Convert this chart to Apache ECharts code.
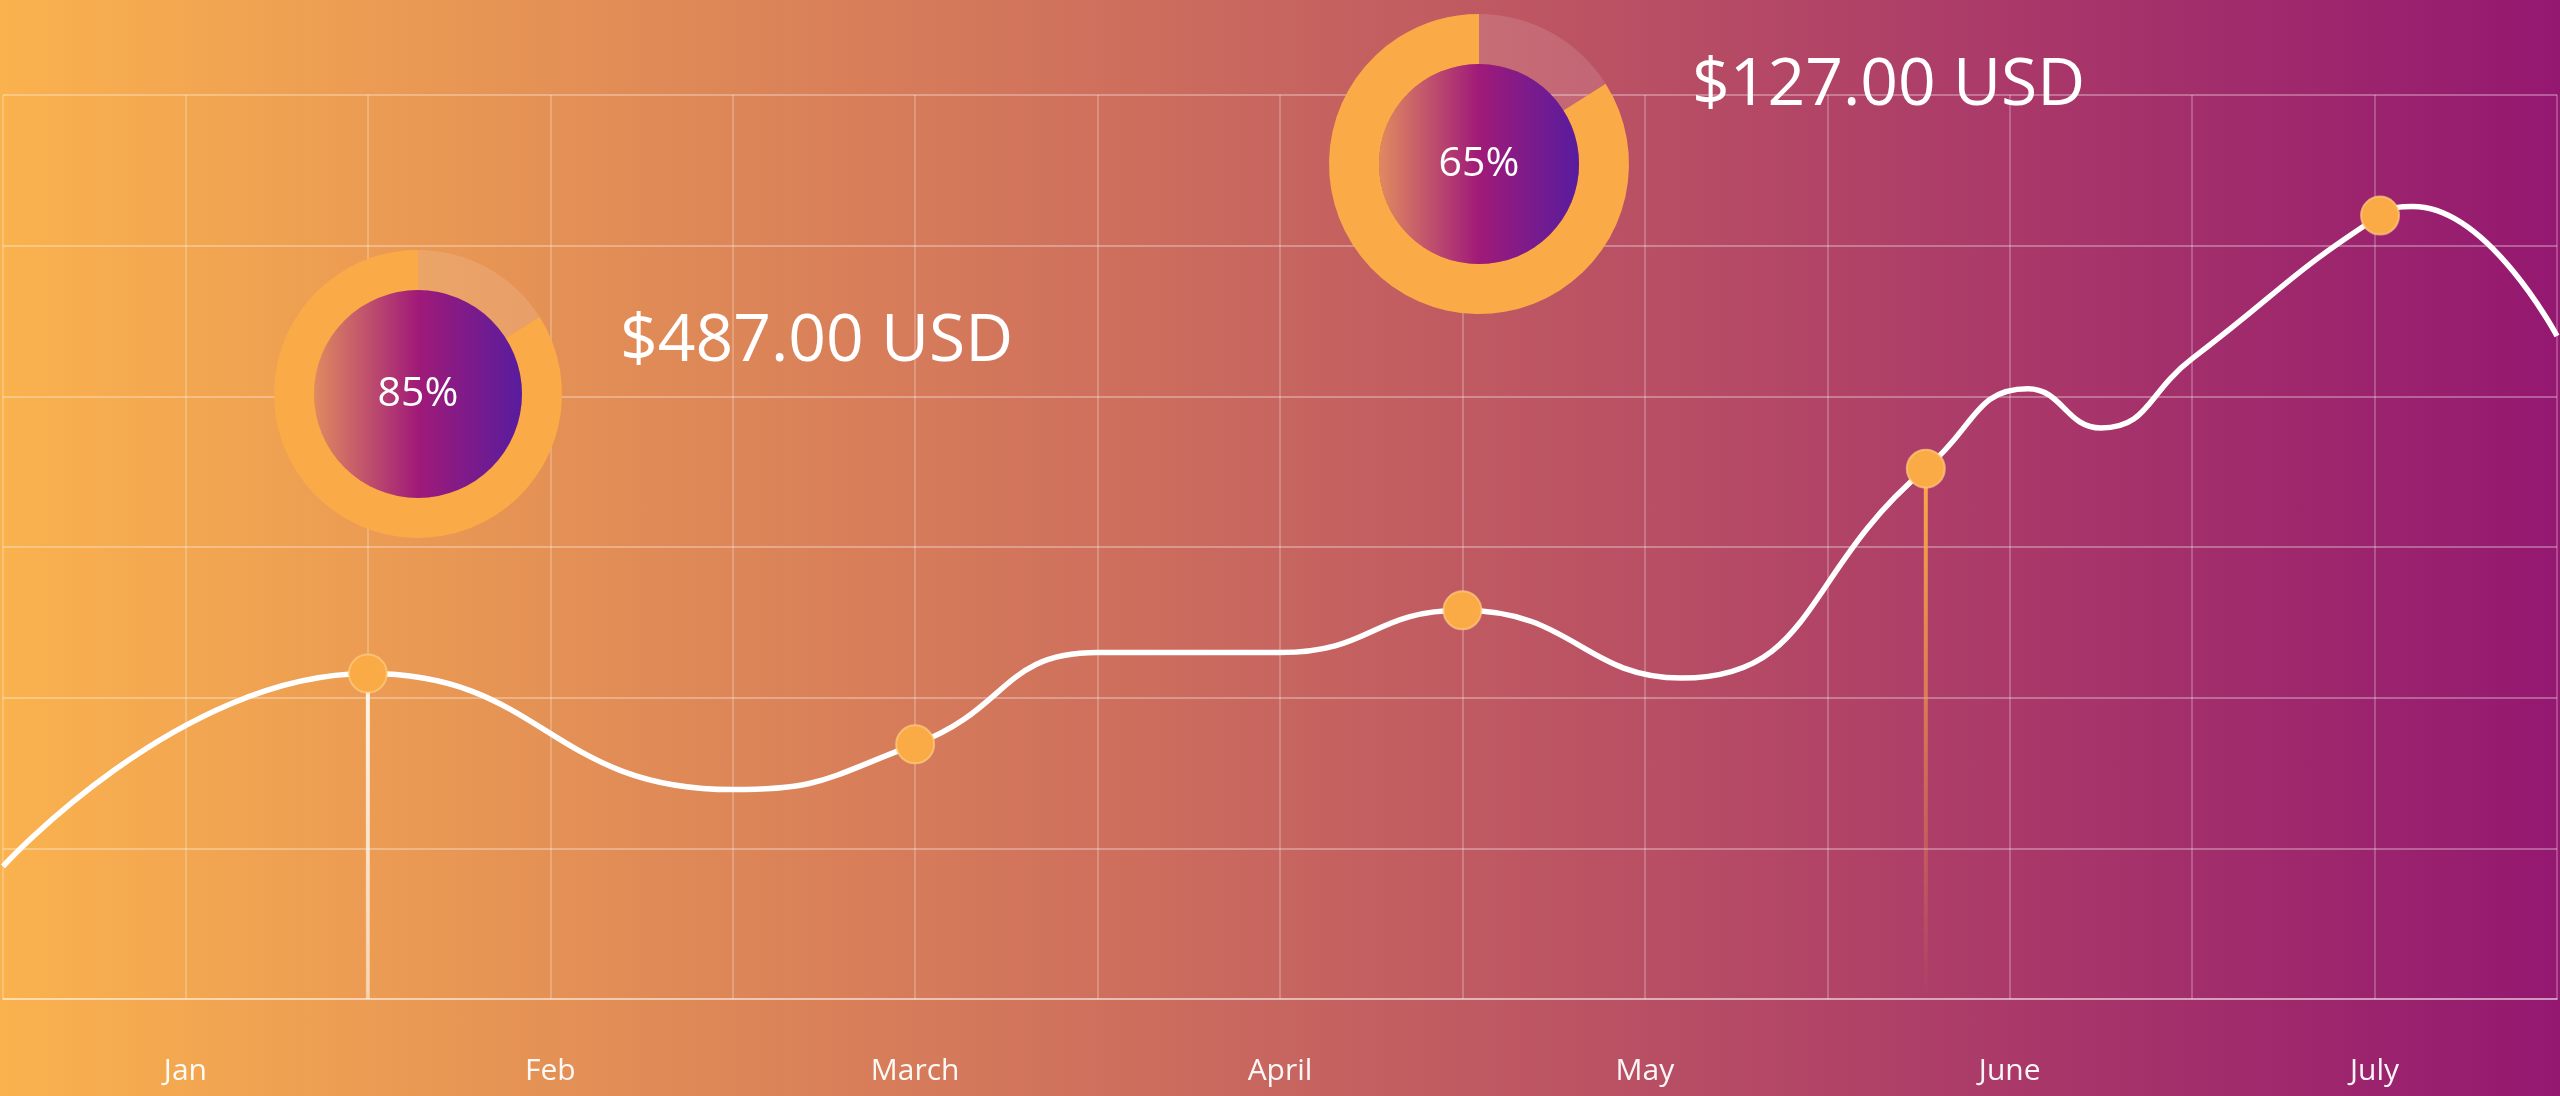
<!DOCTYPE html>
<html>
<head>
<meta charset="utf-8">
<script src="https://cdn.jsdelivr.net/npm/echarts@6/dist/echarts.min.js"></script>
<style>
  html, body { margin: 0; padding: 0; }
  #main { width: 2560px; height: 1096px; background: linear-gradient(to right, #fab24e, #941870); }
</style>
</head>
<body>
<div id="main"></div>
<script>
// x 位置按网格列计 (0..14), y 为数值
const monthLabels = ['Jan', 'Feb', 'March', 'April', 'May', 'June', 'July'];
const curveX = [0, 2, 4, 5, 6, 7, 8, 9.2, 10.54, 11.1, 11.5, 12.0, 13.03, 13.21, 14];
const curveY = [8.8, 21.6, 13.9, 16.9, 23.0, 23.0, 25.8, 21.3, 35.2, 40.5, 37.9, 42.5, 52.0, 52.6, 44.0];
const markerX = [2, 5, 8, 10.54, 13.03];
const dropX = [2, 10.54];
const dropY = [21.6, 35.2];
const donutFilled = [84, 84];
const donutText = ['85%', '65%'];
const priceText = ['$487.00 USD', '$127.00 USD'];

const chartDom = document.getElementById('main');
const myChart = echarts.init(chartDom);

const font = '"Open Sans", "Noto Sans", sans-serif';

const lineData = curveX.map(function (x, i) {
    const isMarker = markerX.indexOf(x) >= 0;
    return { value: [x, curveY[i]], symbol: isMarker ? 'circle' : 'none' };
});

// 竖线：白色和橙色，向下渐隐
const dropColors = [
    ['rgba(255,246,236,1)', 'rgba(255,240,225,0.55)'],
    ['rgba(251,170,70,1)', 'rgba(251,170,70,0)']
];
const dropData = dropX.map(function (x, i) {
    return {
        value: [x, dropY[i]],
        itemStyle: {
            color: new echarts.graphic.LinearGradient(0, 0, 0, 1, [
                { offset: 0, color: dropColors[i][0] },
                { offset: 1, color: dropColors[i][1] }
            ])
        }
    };
});

const discColor = new echarts.graphic.LinearGradient(0, 0, 1, 0, [
    { offset: 0, color: '#e08a60' },
    { offset: 0.5, color: '#a01a78' },
    { offset: 1, color: '#581c9e' }
]);

const donutCenters = [[418, 394], [1479, 164]];
const donutRadius = [[104, 144], [100, 150]];

const pieSeries = [];
donutCenters.forEach(function (c, i) {
    pieSeries.push({
        type: 'pie',
        silent: true,
        center: c,
        radius: donutRadius[i],
        startAngle: 90,
        clockwise: true,
        label: { show: false },
        labelLine: { show: false },
        emphasis: { disabled: true },
        data: [
            { value: 100 - donutFilled[i], itemStyle: { color: 'rgba(255,255,255,0.12)' } },
            { value: donutFilled[i], itemStyle: { color: '#fbaa48' } }
        ]
    });
    pieSeries.push({
        type: 'pie',
        silent: true,
        center: c,
        radius: [0, donutRadius[i][0]],
        emphasis: { disabled: true },
        labelLine: { show: false },
        label: {
            show: true,
            position: 'center',
            formatter: donutText[i],
            color: '#fff',
            fontSize: 41,
            fontFamily: font
        },
        data: [{ value: 1, itemStyle: { color: discColor } }]
    });
});

const option = {
    animation: false,
    grid: { left: 0, right: 0, top: 95, bottom: 97 },
    xAxis: {
        type: 'value',
        min: 0,
        max: 14,
        interval: 1,
        axisLine: { show: true, lineStyle: { color: 'rgba(255,255,255,0.35)', width: 2 } },
        axisTick: { show: false },
        axisLabel: {
            margin: 57,
            color: 'rgba(255,255,255,0.95)',
            fontSize: 30,
            fontFamily: font,
            formatter: function (v) {
                return v % 2 === 1 ? monthLabels[(v - 1) / 2] : '';
            }
        },
        splitLine: { show: true, lineStyle: { color: 'rgba(255,255,255,0.3)', width: 1.5 } }
    },
    yAxis: {
        type: 'value',
        min: 0,
        max: 60,
        interval: 10,
        axisLine: { show: false },
        axisTick: { show: false },
        axisLabel: { show: false },
        splitLine: { show: true, lineStyle: { color: 'rgba(255,255,255,0.3)', width: 2 } }
    },
    graphic: [
        {
            type: 'text', x: 620, y: 342,
            style: { text: priceText[0], fill: '#fff', fontSize: 66, fontFamily: font, verticalAlign: 'middle' }
        },
        {
            type: 'text', x: 1692, y: 86,
            style: { text: priceText[1], fill: '#fff', fontSize: 66, fontFamily: font, verticalAlign: 'middle' }
        }
    ],
    series: [
        {
            type: 'bar',
            barWidth: 4,
            silent: true,
            data: dropData
        },
        {
            type: 'line',
            smooth: 0.5,
            silent: true,
            showSymbol: true,
            symbolSize: 38,
            lineStyle: { color: '#ffffff', width: 5.5 },
            itemStyle: { color: '#fbab46', borderColor: 'rgba(255,205,130,0.7)', borderWidth: 2 },
            data: lineData,
            z: 3
        }
    ].concat(pieSeries)
};

myChart.setOption(option);
</script>
</body>
</html>
